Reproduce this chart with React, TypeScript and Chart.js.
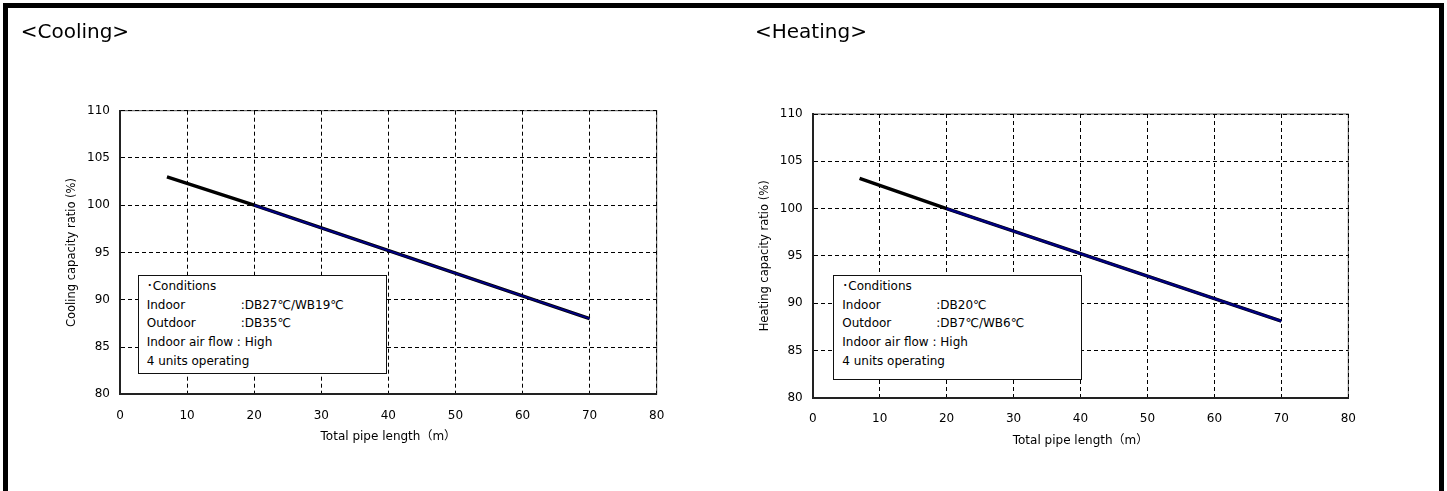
import React, { useEffect, useRef } from "react";
import { Chart, registerables } from "chart.js";

Chart.register(...registerables);

// ---- data ----
const xTickMin = 0;
const xTickMax = 80;
const xTickStep = 10;
const yTickMin = 80;
const yTickMax = 110;
const yTickStep = 5;

const coolingLengths = [7, 20, 70];
const coolingRatios = [103.0, 100.0, 88.0];
const coolingOverlayLengths = [20, 70];
const coolingOverlayRatios = [100.0, 88.0];

const heatingLengths = [7, 20, 70];
const heatingRatios = [103.2, 100.0, 88.1];
const heatingOverlayLengths = [20, 70];
const heatingOverlayRatios = [100.0, 88.1];

const coolingConditions: [string, string][] = [
  ["\uFF65Conditions", ""],
  ["Indoor", ":DB27\u2103/WB19\u2103"],
  ["Outdoor", ":DB35\u2103"],
  ["Indoor air flow : High", ""],
  ["4 units operating", ""],
];
const heatingConditions: [string, string][] = [
  ["\uFF65Conditions", ""],
  ["Indoor", ":DB20\u2103"],
  ["Outdoor", ":DB7\u2103/WB6\u2103"],
  ["Indoor air flow : High", ""],
  ["4 units operating", ""],
];

const xTitle = "Total pipe length\uFF08m\uFF09";
const coolingYTitle = "Cooling capacity ratio (%)";
const heatingYTitle = "Heating capacity ratio (%)";

// ---- styling ----
const PAGE_W = 1447;
const PAGE_H = 491;
const FONT = "'DejaVu Sans', 'Noto Sans CJK JP', sans-serif";

const framePlugin = {
  id: "plotFrame",
  beforeDraw(chart: any) {
    const { ctx, chartArea: a } = chart;
    ctx.save();
    ctx.strokeStyle = "#555";
    ctx.lineWidth = 1;
    ctx.strokeRect(a.left, a.top, a.right - a.left, a.bottom - a.top);
    ctx.restore();
  },
};

type PanelProps = {
  canvasLeft: number;
  canvasWidth: number;
  areaLeft: number;
  areaTop: number;
  areaRight: number;
  areaBottom: number;
  yTitleCenter: number;
  yTitle: string;
  lengths: number[];
  ratios: number[];
  overLengths: number[];
  overRatios: number[];
  navyWidth: number;
};

function Panel(p: PanelProps) {
  const ref = useRef<HTMLCanvasElement | null>(null);
  useEffect(() => {
    if (!ref.current) return;
    const yAxisW = p.areaLeft - p.canvasLeft;
    const padRight = p.canvasLeft + p.canvasWidth - p.areaRight;
    const xAxisH = PAGE_H - p.areaBottom;
    const yTitleSize = 11.5;
    const xTitleSize = 12;
    const chart = new Chart(ref.current, {
      type: "scatter",
      data: {
        datasets: [
          {
            data: p.overLengths.map((x, i) => ({ x, y: p.overRatios[i] })),
            borderColor: "#000080",
            backgroundColor: "#000080",
            borderWidth: p.navyWidth,
            showLine: true,
            pointRadius: 0,
            order: 0,
          },
          {
            data: p.lengths.map((x, i) => ({ x, y: p.ratios[i] })),
            borderColor: "#000000",
            backgroundColor: "#000000",
            borderWidth: 3.4,
            showLine: true,
            pointRadius: 0,
            order: 1,
          },
        ],
      },
      options: {
        responsive: false,
        animation: false,
        devicePixelRatio: 1,
        layout: { padding: { left: 0, top: p.areaTop, right: padRight, bottom: 0 } },
        plugins: { legend: { display: false }, tooltip: { enabled: false } },
        scales: {
          x: {
            type: "linear",
            position: "bottom",
            min: xTickMin,
            max: xTickMax,
            ticks: {
              stepSize: xTickStep,
              padding: 14,
              maxRotation: 0,
              autoSkip: false,
              color: "#000",
              font: { family: FONT, size: 12, lineHeight: 1.2 },
            },
            grid: { color: "#000", lineWidth: 1, drawTicks: false },
            border: { display: true, color: "#222", width: 2, dash: [4, 3] },
            title: {
              display: true,
              text: xTitle,
              color: "#000",
              font: { family: FONT, size: xTitleSize, lineHeight: 1 },
              padding: { top: 0, bottom: xAxisH - 43 - xTitleSize / 2 },
            },
            afterFit: (s: any) => {
              s.height = xAxisH;
            },
          },
          y: {
            type: "linear",
            position: "left",
            min: yTickMin,
            max: yTickMax,
            ticks: {
              stepSize: yTickStep,
              padding: 10,
              color: "#000",
              font: { family: FONT, size: 12 },
            },
            grid: { color: "#000", lineWidth: 1, drawTicks: false },
            border: { display: true, color: "#222", width: 2, dash: [4, 3] },
            title: {
              display: true,
              text: p.yTitle,
              color: "#000",
              font: { family: FONT, size: yTitleSize, lineHeight: 1 },
              padding: { top: p.yTitleCenter - p.canvasLeft - yTitleSize / 2, bottom: 0 },
            },
            afterFit: (s: any) => {
              s.width = yAxisW;
            },
          },
        },
      } as any,
      plugins: [framePlugin],
    });
    return () => chart.destroy();
  }, []);
  return (
    <canvas
      ref={ref}
      width={p.canvasWidth}
      height={PAGE_H}
      style={{
        position: "absolute",
        left: p.canvasLeft,
        top: 0,
        width: p.canvasWidth,
        height: PAGE_H,
      }}
    />
  );
}

function ConditionsBox(props: {
  left: number;
  top: number;
  width: number;
  height: number;
  lines: [string, string][];
}) {
  return (
    <div
      style={{
        position: "absolute",
        left: props.left,
        top: props.top,
        width: props.width,
        height: props.height,
        boxSizing: "border-box",
        border: "1px solid #111",
        background: "#fff",
        fontFamily: FONT,
        fontSize: 12,
        lineHeight: "18.7px",
        paddingTop: 1,
        paddingLeft: 8,
        color: "#000",
        whiteSpace: "nowrap",
      }}
    >
      {props.lines.map(([a, b], i) => (
        <div key={i}>
          {b ? (
            <>
              <span style={{ display: "inline-block", width: 94 }}>{a}</span>
              <span>{b}</span>
            </>
          ) : (
            <span>{a}</span>
          )}
        </div>
      ))}
    </div>
  );
}

export default function App() {
  const titleStyle: React.CSSProperties = {
    position: "absolute",
    top: 21,
    fontFamily: FONT,
    fontSize: 20,
    lineHeight: 1,
    color: "#000",
    whiteSpace: "nowrap",
  };
  return (
    <div
      style={{
        position: "absolute",
        left: 0,
        top: 0,
        width: PAGE_W,
        height: PAGE_H,
        background: "#fff",
        overflow: "hidden",
      }}
    >
      <Panel
        canvasLeft={0}
        canvasWidth={700}
        areaLeft={120}
        areaTop={110.7}
        areaRight={656.7}
        areaBottom={394.3}
        yTitleCenter={72}
        yTitle={coolingYTitle}
        lengths={coolingLengths}
        ratios={coolingRatios}
        overLengths={coolingOverlayLengths}
        overRatios={coolingOverlayRatios}
        navyWidth={2}
      />
      <Panel
        canvasLeft={700}
        canvasWidth={747}
        areaLeft={812.7}
        areaTop={114}
        areaRight={1348.3}
        areaBottom={397.7}
        yTitleCenter={764.7}
        yTitle={heatingYTitle}
        lengths={heatingLengths}
        ratios={heatingRatios}
        overLengths={heatingOverlayLengths}
        overRatios={heatingOverlayRatios}
        navyWidth={2.4}
      />
      <ConditionsBox left={137.7} top={275} width={249} height={99} lines={coolingConditions} />
      <ConditionsBox left={833.3} top={275} width={249} height={105} lines={heatingConditions} />
      <div style={{ ...titleStyle, left: 20.7 }}>&lt;Cooling&gt;</div>
      <div style={{ ...titleStyle, left: 755 }}>&lt;Heating&gt;</div>
      <div
        style={{
          position: "absolute",
          left: 3,
          top: 3,
          width: 1441,
          height: 600,
          boxSizing: "border-box",
          borderLeft: "5px solid #000",
          borderTop: "5px solid #000",
          borderRight: "5px solid #000",
          pointerEvents: "none",
        }}
      />
    </div>
  );
}
